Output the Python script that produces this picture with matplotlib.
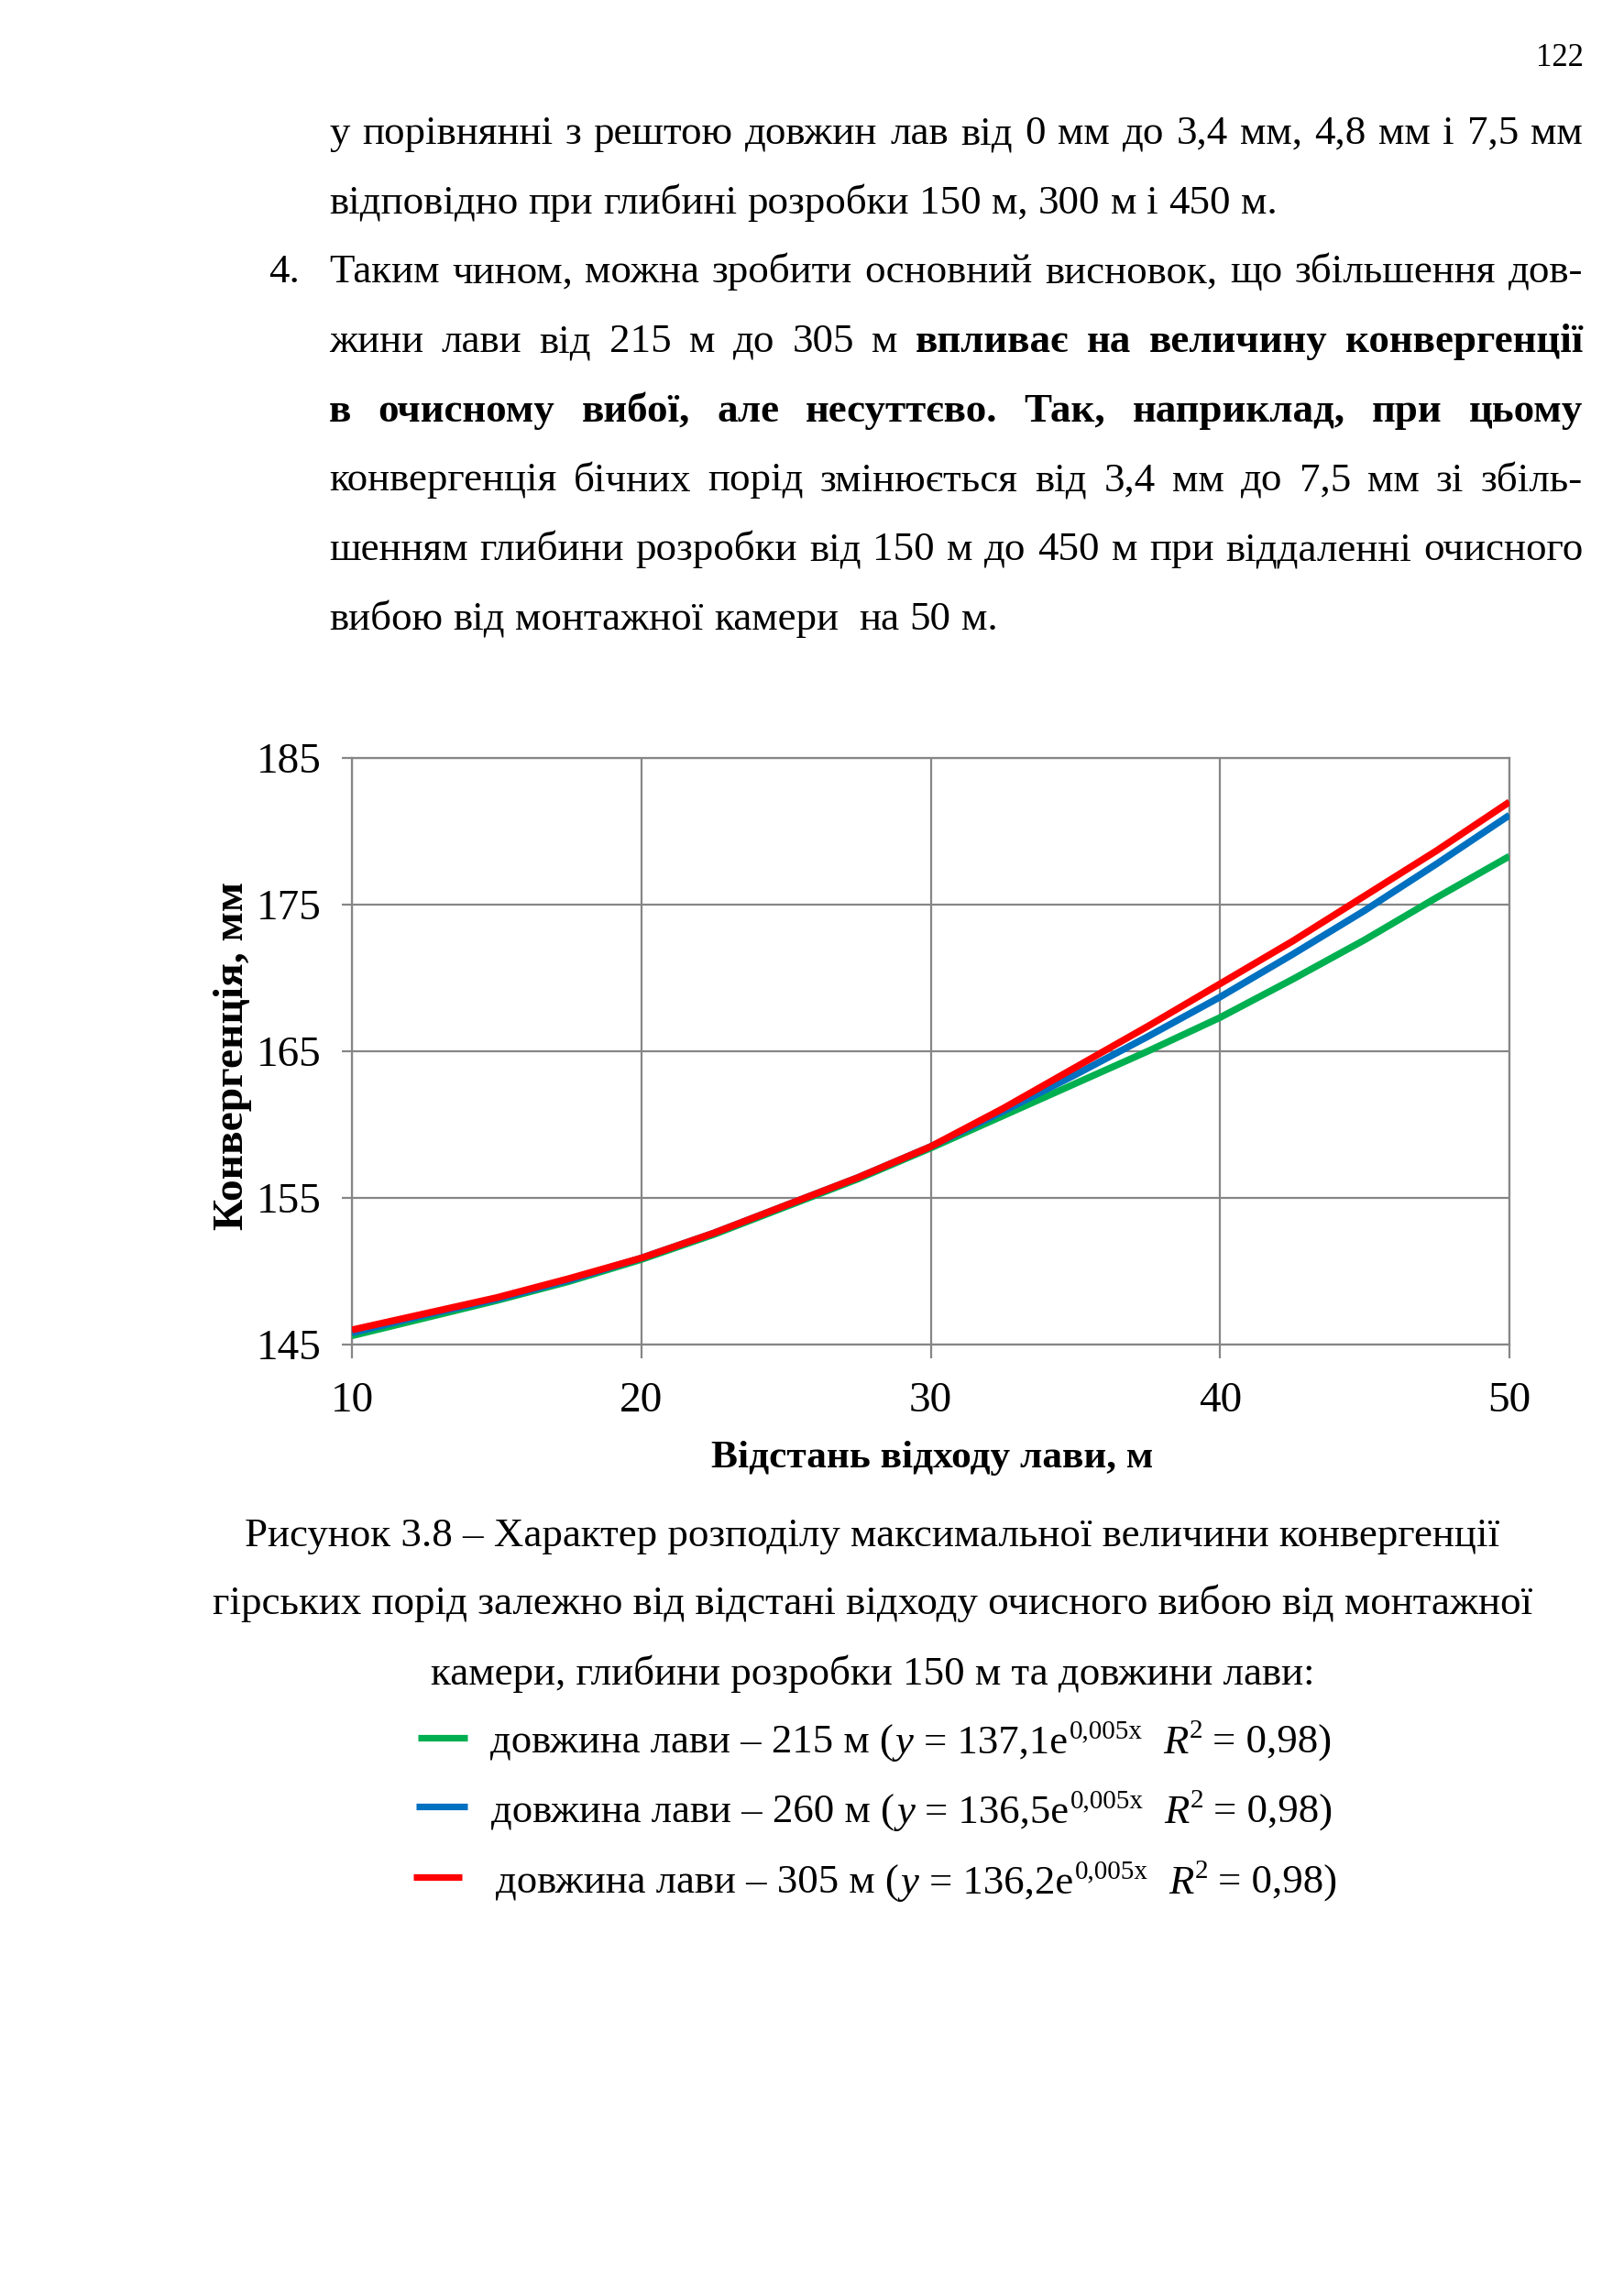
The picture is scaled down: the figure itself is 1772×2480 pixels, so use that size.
import matplotlib
matplotlib.use('Agg')
import matplotlib.pyplot as plt
from matplotlib.lines import Line2D

# ---------------- data ----------------
x_dist = [10, 12.5, 15, 17.5, 20, 22.5, 25, 27.5, 30, 32.5, 35, 37.5, 40, 42.5, 45, 47.5, 50]
conv_215 = [145.6, 146.8, 148.0, 149.3, 150.8, 152.5, 154.4, 156.3, 158.4, 160.6, 162.8, 165.0, 167.3, 169.9, 172.6, 175.5, 178.3]
conv_260 = [145.8, 147.0, 148.1, 149.4, 150.9, 152.6, 154.5, 156.4, 158.5, 160.9, 163.4, 166.0, 168.7, 171.6, 174.6, 177.8, 181.1]
conv_305 = [146.0, 147.1, 148.2, 149.5, 150.9, 152.6, 154.5, 156.4, 158.5, 161.1, 163.9, 166.7, 169.6, 172.5, 175.6, 178.7, 182.0]
x_ticks = [10, 20, 30, 40, 50]
y_ticks = [145, 155, 165, 175, 185]
series_colors = ['#00B050', '#0070C0', '#FF0000']
series_lengths = ['215', '260', '305']
series_coefs = ['137,1', '136,5', '136,2']

y_label = 'Конвергенція, мм'
x_label = 'Відстань відходу лави, м'
page_number = '122'

body_lines = [
    ([("у порівнянні з рештою довжин лав від 0 мм до 3,4 мм, 4,8 мм і 7,5 мм", False)], True),
    ([("відповідно при глибині розробки 150 м, 300 м і 450 м.", False)], False),
    ([("Таким чином, можна зробити основний висновок, що збільшення дов-", False)], True),
    ([("жини лави від 215 м до 305 м", False), ("впливає на величину конвергенції", True)], True),
    ([("в очисному вибої, але несуттєво. Так, наприклад, при цьому", True)], True),
    ([("конвергенція бічних порід змінюється від 3,4 мм до 7,5 мм зі збіль-", False)], True),
    ([("шенням глибини розробки від 150 м до 450 м при віддаленні очисного", False)], True),
    ([("вибою від монтажної камери  на 50 м.", False)], False),
]
caption_lines = [
    "Рисунок 3.8 – Характер розподілу максимальної величини конвергенції",
    "гірських порід залежно від відстані відходу очисного вибою від монтажної",
    "камери, глибини розробки 150 м та довжини лави:",
]

# ---------------- figure ----------------
W, H = 1772, 2480
DPI = 200
plt.rcParams['font.family'] = ['Liberation Serif', 'DejaVu Serif']
fig = plt.figure(figsize=(W / DPI, H / DPI), dpi=DPI)
fig.patch.set_facecolor('white')


def fx(px):
    return px / W


def fy(py):
    return 1 - py / H


GRID = '#868686'
ax = fig.add_axes([fx(384), fy(1467), fx(1647) - fx(384), fy(827) - fy(1467)])
for yv, c in zip([conv_215, conv_260, conv_305], series_colors):
    ax.plot(x_dist, yv, color=c, lw=2.7, solid_capstyle='butt',
            solid_joinstyle='round', zorder=3)
ax.set_xlim(10, 50)
ax.set_ylim(145, 185)
ax.set_xticks(x_ticks)
ax.set_yticks(y_ticks)
ax.grid(True, color=GRID, lw=0.8)
for s in ax.spines.values():
    s.set_color(GRID)
    s.set_linewidth(0.8)
ax.tick_params(axis='x', direction='out', length=5.5, width=0.8, color=GRID,
               labelsize=17, pad=9)
ax.tick_params(axis='y', direction='out', length=4, width=0.8, color=GRID,
               labelsize=17, pad=8)

fig.text(fx(254), fy(1152), y_label, rotation=90, ha='center', va='center',
         fontsize=17.1, fontweight='bold')
fig.text(fx(1017), fy(1591), x_label, ha='center', va='center',
         fontsize=15.6, fontweight='bold')

renderer = fig.canvas.get_renderer()


def width_of(t):
    return t.get_window_extent(renderer).width


def space_width(size, weight='normal'):
    a = fig.text(0, 0, 'a a', fontsize=size, fontweight=weight)
    b = fig.text(0, 0, 'aa', fontsize=size, fontweight=weight)
    w = width_of(a) - width_of(b)
    a.remove()
    b.remove()
    return w


BODY = 16.2
LEG = 16.1
SP = space_width(BODY)


def place_line(segments, y, x0, x1, justify):
    items = []
    for seg, bold in segments:
        for w in seg.split(' '):
            if w == '':
                items.append(None)
                continue
            t = fig.text(0, fy(y), w, fontsize=BODY, va='baseline', ha='left',
                         fontweight='bold' if bold else 'normal')
            items.append(t)
    objs = [t for t in items if t is not None]
    widths = {id(t): width_of(t) for t in objs}
    if justify and len(objs) > 1:
        gap = (x1 - x0 - sum(widths.values())) / (len(objs) - 1)
    else:
        gap = SP
    x = x0
    first = True
    for t in items:
        if t is None:
            x += SP
            continue
        if not first:
            x += gap
        t.set_x(fx(x))
        x += widths[id(t)]
        first = False


base0 = 157
step = 75.7
for i, (segs, just) in enumerate(body_lines):
    place_line(segs, base0 + i * step, 359, 1727, just)
fig.text(fx(293), fy(base0 + 2 * step), '4.', fontsize=BODY, va='baseline', ha='left')

fig.text(fx(1728), fy(72), page_number, fontsize=12.5, ha='right', va='baseline')

cap_base = [1687, 1761, 1838]
for yb, line in zip(cap_base, caption_lines):
    fig.text(fx(952), fy(yb), line, fontsize=BODY, ha='center', va='baseline')


def place_runs(runs, x0, y):
    x = x0
    for txt, kw, gap, dy in runs:
        x += gap * SP
        t = fig.text(fx(x), fy(y - dy), txt, va='baseline', ha='left', **kw)
        x += width_of(t)


norm = dict(fontsize=LEG)
ital = dict(fontsize=LEG, style='italic')
sup = dict(fontsize=10.5)
leg_base = [1913, 1989, 2066]
leg_line_y = [1896, 1971, 2048]
leg_line_x = [(456, 510), (454, 510), (451, 504)]
leg_text_x = [535, 536, 541]
for i in range(3):
    (xa, xb) = leg_line_x[i]
    fig.add_artist(Line2D([fx(xa), fx(xb)], [fy(leg_line_y[i])] * 2,
                          color=series_colors[i], lw=2.6, solid_capstyle='butt'))
    runs = [
        ('довжина лави – ' + series_lengths[i] + ' м (', norm, 0, 0),
        ('y', ital, 0.2, 0),
        ('= ' + series_coefs[i] + 'e', norm, 1, 0),
        ('0,005x', sup, 0.1, 17),
        ('R', ital, 2, 0),
        ('2', sup, 0.1, 17),
        ('= 0,98)', norm, 1, 0),
    ]
    place_runs(runs, leg_text_x[i], leg_base[i])

fig.savefig('out.png', dpi=DPI, facecolor='white')
